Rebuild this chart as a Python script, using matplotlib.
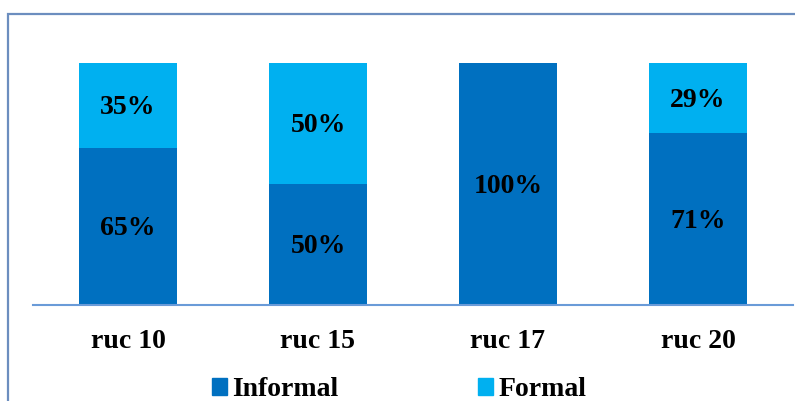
import matplotlib
matplotlib.use("Agg")
import matplotlib.pyplot as plt
from matplotlib.patches import Rectangle, Patch

categories = ["ruc 10", "ruc 15", "ruc 17", "ruc 20"]
informal = [65, 50, 100, 71]
formal = [35, 50, 0, 29]
series_names = ["Informal", "Formal"]
colors = ["#0070C0", "#00B0F0"]

W, H = 795, 401
fig = plt.figure(figsize=(W / 100, H / 100), dpi=100)
font = dict(family="Liberation Serif", weight="bold")
FS = 20

# outer chart border (extends beyond right/bottom edges)
fig.patches.append(Rectangle((8 / W, -0.1), 1.2, 1 - 14 / H + 0.1, transform=fig.transFigure,
                             fill=False, edgecolor="#6C8EBF", linewidth=1.6))

ax = fig.add_axes([33 / W, 1 - 305 / H, 760 / W, (305 - 63) / H])
x = range(len(categories))
width = 0.516
ax.bar(x, informal, width, color=colors[0], label=series_names[0])
ax.bar(x, formal, width, bottom=informal, color=colors[1], label=series_names[1])

for i, (a, b) in enumerate(zip(informal, formal)):
    if a > 0:
        ax.text(i, a / 2 - 1, f"{a}%", ha="center", va="center", fontsize=FS, **font)
    if b > 0:
        ax.text(i, a + b / 2 - 1, f"{b}%", ha="center", va="center", fontsize=FS, **font)

ax.set_xlim(-0.5, 3.5)
ax.set_ylim(0, 100)
ax.set_xticks(list(x))
ax.set_xticklabels(categories, fontsize=FS, **font)
ax.tick_params(axis="x", length=0, pad=17)
ax.set_yticks([])
for s in ["top", "right", "left"]:
    ax.spines[s].set_visible(False)
ax.spines["bottom"].set_color("#6A9BD8")
ax.spines["bottom"].set_linewidth(1.5)

handles = [Patch(color=colors[0]), Patch(color=colors[1])]
fig.legend(handles, series_names, loc="center", bbox_to_anchor=(399 / W, 1 - 390 / H), ncol=2,
           frameon=False, prop=dict(family="Liberation Serif", weight="bold", size=FS),
           handlelength=0.55, handleheight=0.55, handletextpad=0.2, columnspacing=5.0,
           borderaxespad=0, borderpad=0)

fig.savefig("out.png", dpi=100)
